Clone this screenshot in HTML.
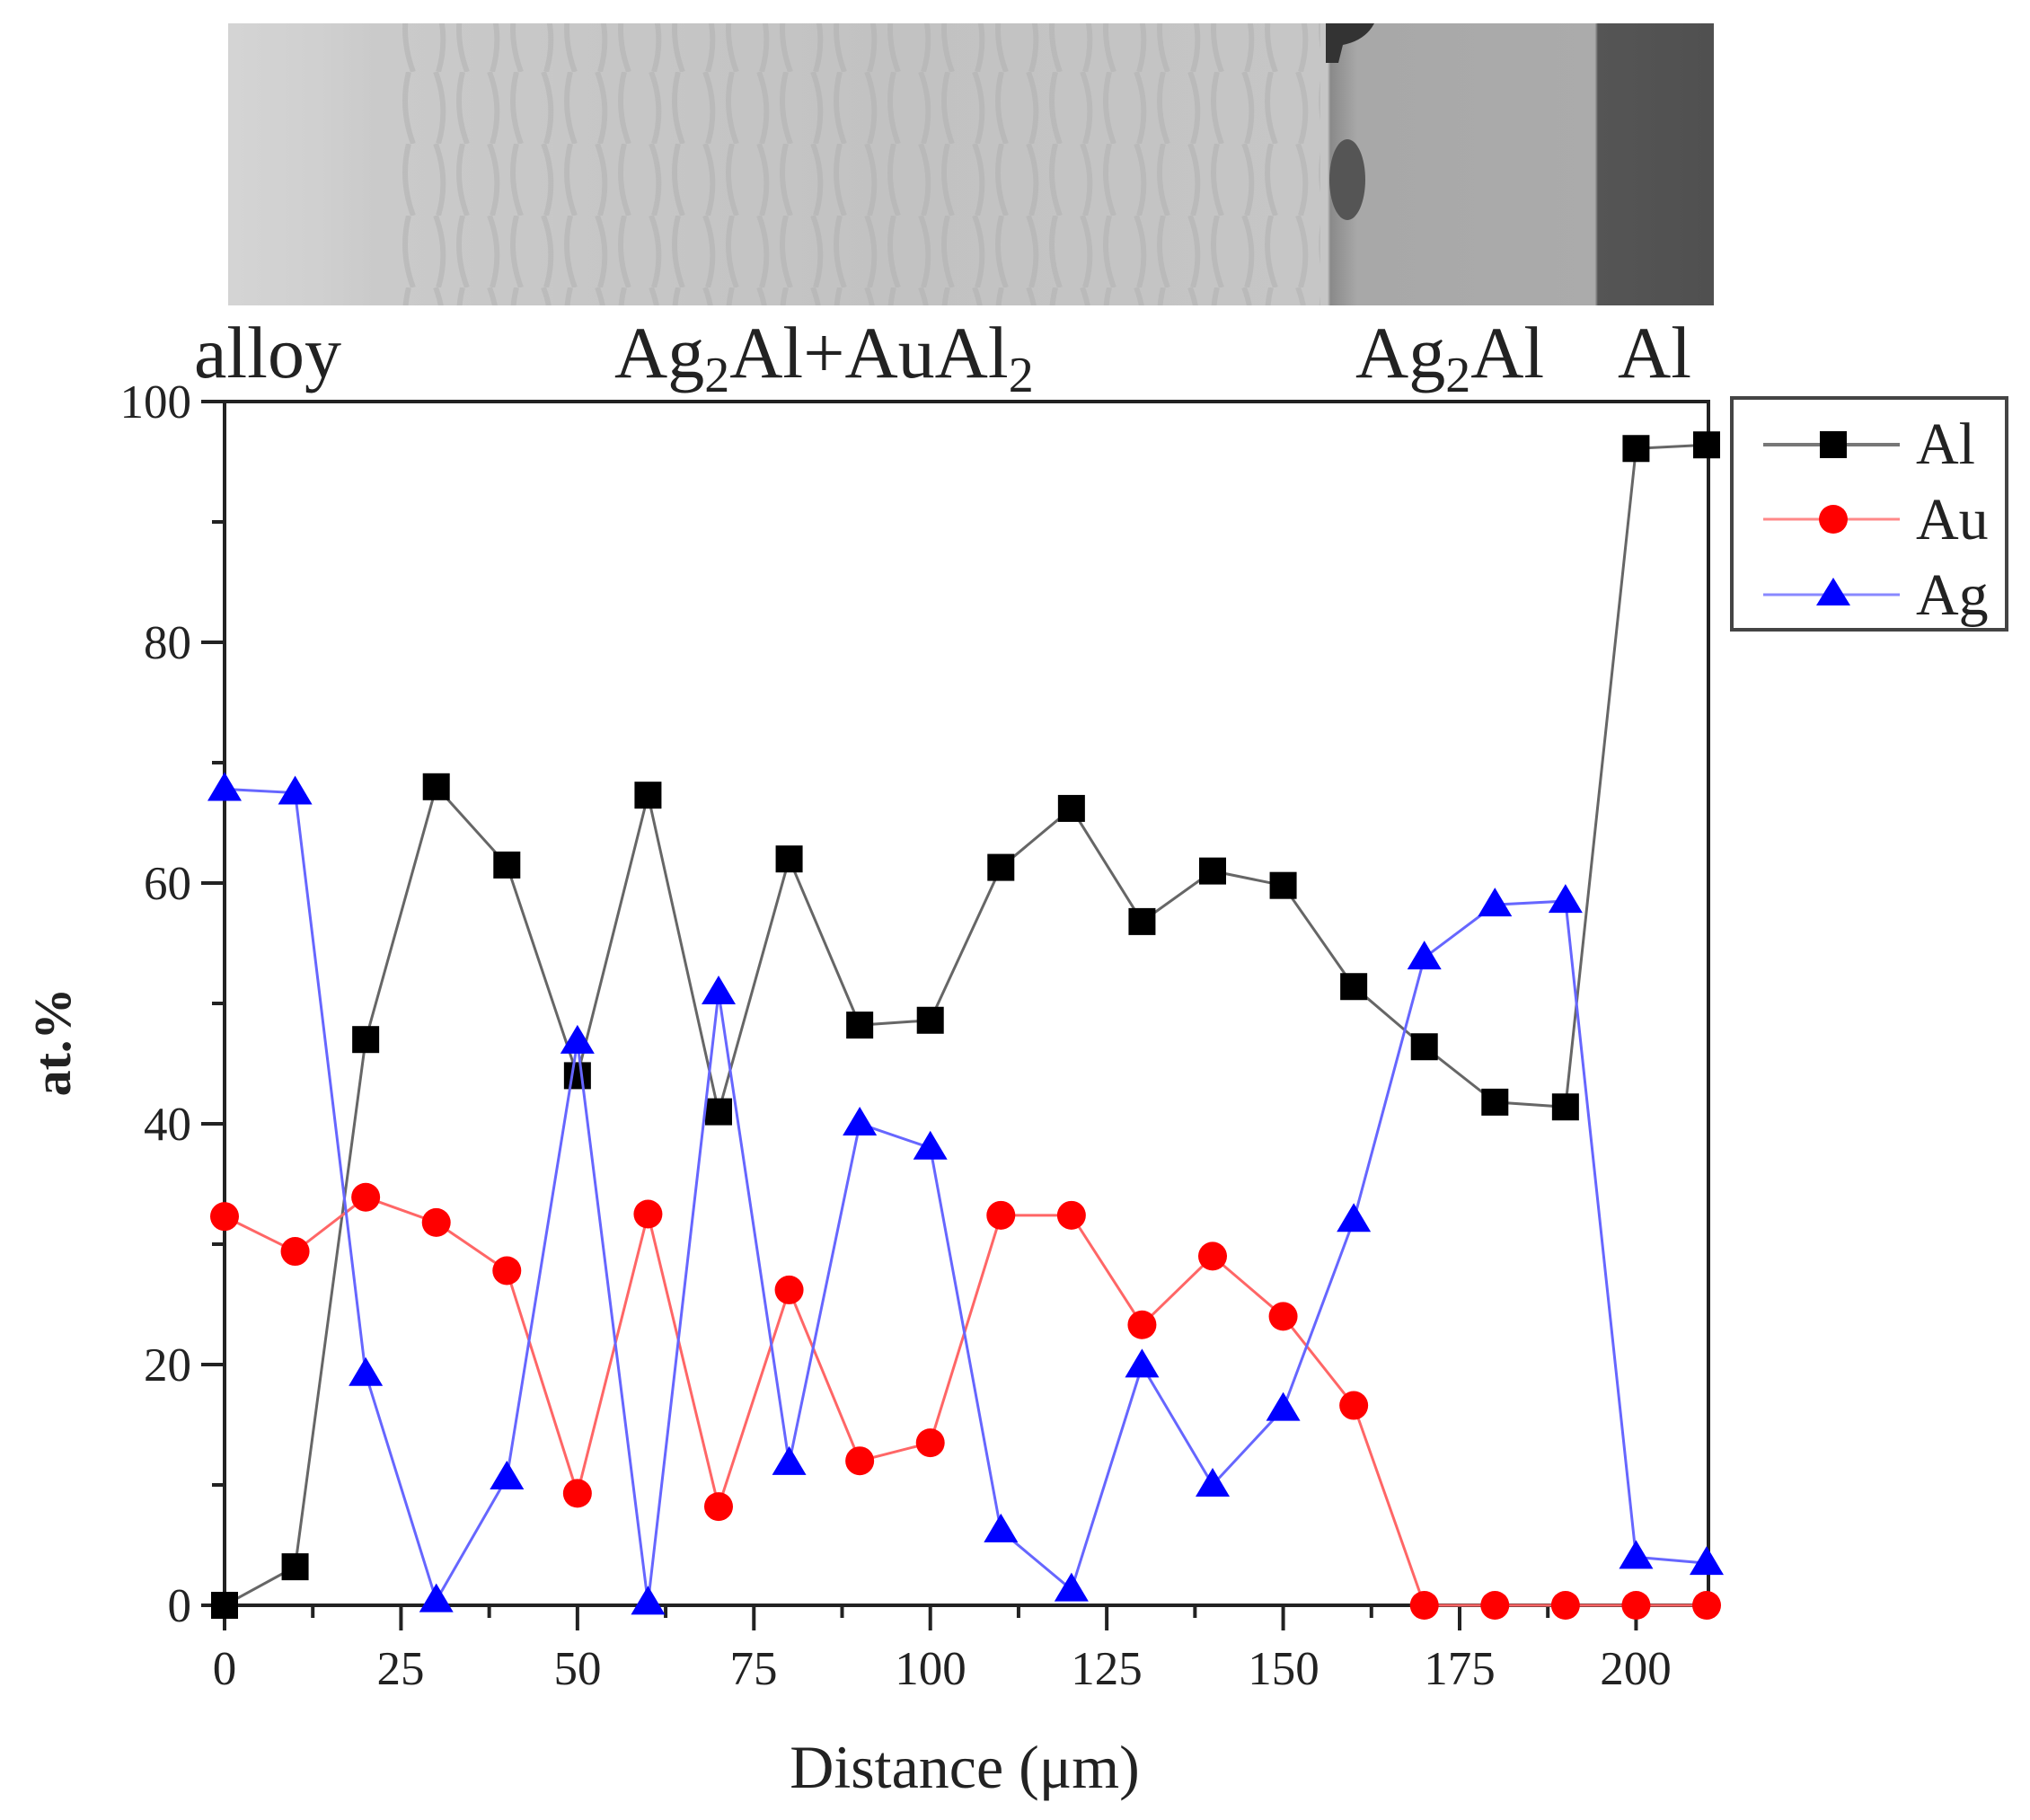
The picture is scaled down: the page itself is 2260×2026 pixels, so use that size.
<!DOCTYPE html>
<html><head><meta charset="utf-8"><style>
html,body{margin:0;padding:0;background:#fff;}
svg{display:block;}
text{font-family:"Liberation Serif",serif;fill:#222;}
</style></head><body>
<svg id="s" width="2260" height="2026" viewBox="0 0 2260 2026" xmlns="http://www.w3.org/2000/svg">
<defs>
<linearGradient id="g1" x1="0" x2="1" y1="0" y2="0">
<stop offset="0" stop-color="#d4d4d4"/>
<stop offset="0.06" stop-color="#d0d0d0"/>
<stop offset="0.1" stop-color="#cacaca"/>
<stop offset="0.45" stop-color="#c2c2c2"/>
<stop offset="0.74" stop-color="#c6c6c6"/>
<stop offset="0.742" stop-color="#8a8a8a"/>
<stop offset="0.76" stop-color="#a8a8a8"/>
<stop offset="0.92" stop-color="#ababab"/>
<stop offset="0.922" stop-color="#555"/>
<stop offset="1" stop-color="#505050"/>
</linearGradient>
<pattern id="pt" width="60" height="80" patternUnits="userSpaceOnUse">
<path d="M5 0 Q20 40 8 80 M35 0 Q25 40 40 80" stroke="#b0b0b0" stroke-width="6" fill="none" opacity="0.5"/>
</pattern>
</defs>
<rect x="254" y="26" width="1654" height="314" fill="url(#g1)"/>
<rect x="440" y="26" width="1030" height="314" fill="url(#pt)"/>
<ellipse cx="1500" cy="200" rx="20" ry="45" fill="#555"/>
<path d="M1476 26 L1530 26 Q1520 45 1495 50 L1490 70 L1476 70 Z" fill="#333"/>

<text x="216" y="420" font-size="82">alloy</text>
<text x="684" y="420" font-size="82">Ag<tspan font-size="56" dy="16">2</tspan><tspan dy="-16">Al+AuAl</tspan><tspan font-size="56" dy="16">2</tspan></text>
<text x="1509" y="420" font-size="82">Ag<tspan font-size="56" dy="16">2</tspan><tspan dy="-16">Al</tspan></text>
<text x="1801" y="420" font-size="82">Al</text>

<rect x="250" y="447" width="1652" height="1340" fill="none" stroke="#222" stroke-width="4"/>
<g id="ticks" stroke="#222" stroke-width="4"></g>
<g font-size="53" text-anchor="end">
<text x="213" y="1805">0</text><text x="213" y="1537">20</text><text x="213" y="1269">40</text>
<text x="213" y="1001">60</text><text x="213" y="733">80</text><text x="213" y="465">100</text>
</g>
<g font-size="53" text-anchor="middle">
<text x="250" y="1875">0</text><text x="446" y="1875">25</text><text x="643" y="1875">50</text>
<text x="839" y="1875">75</text><text x="1036" y="1875">100</text><text x="1232" y="1875">125</text>
<text x="1429" y="1875">150</text><text x="1625" y="1875">175</text><text x="1821" y="1875">200</text>
</g>
<text x="1074" y="1990" font-size="68" text-anchor="middle">Distance (μm)</text>
<text transform="translate(78,1160) rotate(-90)" font-size="58" font-weight="bold" text-anchor="middle">at.%</text>

<g id="data"></g>

<rect x="1928" y="443" width="306" height="258" fill="#fff" stroke="#444" stroke-width="4"/>
<line x1="1963" y1="495" x2="2115" y2="495" stroke="#777" stroke-width="4"/>
<rect x="2026" y="480" width="30" height="30" fill="#000"/>
<line x1="1963" y1="578" x2="2115" y2="578" stroke="#f88" stroke-width="3"/>
<circle cx="2041" cy="578" r="16" fill="#f00"/>
<line x1="1963" y1="662" x2="2115" y2="662" stroke="#88f" stroke-width="3"/>
<polygon points="2041,643 2060,674 2022,674" fill="#00f"/>
<text x="2133" y="516" font-size="66">Al</text>
<text x="2133" y="600" font-size="66">Au</text>
<text x="2133" y="684" font-size="66">Ag</text>
</svg>
<script>
const NS="http://www.w3.org/2000/svg";
const X=v=>250+v*1650/210, Y=v=>1787-13.4*v;
const t=document.getElementById('ticks');
function ln(p,x1,y1,x2,y2,a){const l=document.createElementNS(NS,'line');l.setAttribute('x1',x1);l.setAttribute('y1',y1);l.setAttribute('x2',x2);l.setAttribute('y2',y2);for(const k in (a||{}))l.setAttribute(k,a[k]);p.appendChild(l);}
for(let v=0;v<=100;v+=10){const L=v%20==0?26:14;ln(t,250-L,Y(v),250,Y(v));}
for(let v=0;v<=210;v+=12.5){const L=v%25==0?28:14;ln(t,X(v),1787,X(v),1787+L);}
const al=[0,3.2,47,68,61.5,44,67.3,41,62,48.2,48.6,61.3,66.2,56.8,61,59.8,51.4,46.4,41.8,41.4,96.1,96.4];
const au=[32.3,29.4,33.9,31.8,27.8,9.3,32.5,8.2,26.2,12,13.5,32.4,32.4,23.3,29,24,16.6,0,0,0,0,0];
const ag=[67.8,67.5,19.2,0.4,10.6,46.8,0.2,50.9,11.8,40,38,6.2,1.3,19.9,10,16.3,32,53.8,58.2,58.5,4,3.5];
const d=document.getElementById('data');
function series(arr,lc,mc,type){
 const pl=document.createElementNS(NS,'polyline');
 pl.setAttribute('points',arr.map((v,i)=>X(i*10)+','+Y(v)).join(' '));
 pl.setAttribute('fill','none');pl.setAttribute('stroke',lc);pl.setAttribute('stroke-width','3');d.appendChild(pl);
 arr.forEach((v,i)=>{const x=X(i*10),y=Y(v);let e;
  if(type=='s'){e=document.createElementNS(NS,'rect');e.setAttribute('x',x-15);e.setAttribute('y',y-15);e.setAttribute('width',30);e.setAttribute('height',30);}
  else if(type=='c'){e=document.createElementNS(NS,'circle');e.setAttribute('cx',x);e.setAttribute('cy',y);e.setAttribute('r',16);}
  else{e=document.createElementNS(NS,'polygon');e.setAttribute('points',`${x},${y-19} ${x+19},${y+13} ${x-19},${y+13}`);}
  e.setAttribute('fill',mc);d.appendChild(e);});
}
series(al,'#666','#000','s');
series(au,'#f66','#f00','c');
series(ag,'#66f','#00f','t');
</script>
</body></html>
